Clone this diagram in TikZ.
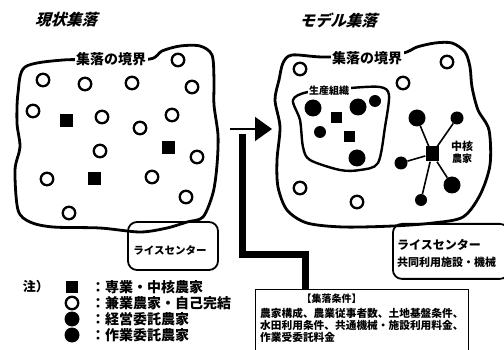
\documentclass[tikz,border=0pt]{standalone}
\usepackage{fontspec}
\newfontfamily\jp{Noto Sans CJK JP}
\newfontfamily\jpit{Noto Sans CJK JP}[FakeSlant=0.3]
\usetikzlibrary{arrows.meta}

\begin{document}
\begin{tikzpicture}[x=1pt,y=-1pt,
  every node/.style={font=\jp\bfseries},
  opencirc/.style={circle,draw,line width=2.3pt,inner sep=0pt,minimum size=12.5pt},
  bigdot/.style={circle,fill,inner sep=0pt,minimum size=17pt},
  smalldot/.style={circle,fill,inner sep=0pt,minimum size=12pt},
  farm/.style={fill,inner sep=0pt,minimum size=13pt},
  boundary/.style={line width=2.8pt,line join=round},
  tag/.style={fill=white,inner sep=1.5pt}]
\useasboundingbox (0,0) rectangle (504,350);

% titles
\node (titleL) at (66,20) {\jpit\fontsize{15.5}{16}\selectfont 現状集落};
\node (titleR) at (338,20) {\jpit\fontsize{15.5}{16}\selectfont モデル集落};

% ---- current settlement
\node (riceL) [draw,line width=1.8pt,rounded corners=9pt,minimum width=90pt,minimum height=48pt] at (173,246) {};
\node at (170,250) {\fontsize{10.5}{11}\selectfont ライスセンター};
\draw[boundary] plot[smooth cycle,tension=0.5] coordinates {(25,67) (63,60) (105,60) (150,59) (162,51) (180,46) (200,46) (212,55) (214,80) (214,105) (218,135) (217,165) (213,193) (203,217) (187,222) (167,228) (140,232) (100,228) (53,227) (30,222) (18,210) (15,170) (20,147) (17,123) (18,93)};
\node (borderL) [tag] at (111,59) {\fontsize{14}{15}\selectfont 集落の境界};

\node (o1) [opencirc] at (43,80) {};
\node (o2) [opencirc] at (85,84) {};
\node (o3) [opencirc] at (132,83) {};
\node (o4) [opencirc] at (192,87) {};
\node (o5) [opencirc] at (178,60) {};
\node (o6) [opencirc] at (33,111) {};
\node (o7) [opencirc] at (102,117) {};
\node (o8) [opencirc] at (172,115) {};
\node (o9) [opencirc] at (140,128) {};
\node (o10) [opencirc] at (100,151) {};
\node (o11) [opencirc] at (197,157) {};
\node (o12) [opencirc] at (47,179) {};
\node (o13) [opencirc] at (152,177) {};
\node (o14) [opencirc] at (186,197) {};
\node (o15) [opencirc] at (69,213) {};
\node (s1) [farm] at (66,121) {};
\node (s2) [farm] at (168,148) {};
\node (s3) [farm] at (94,179) {};

% ---- arrow and link to conditions
\coordinate (arrowtail) at (230,129);
\coordinate (arrowtip) at (272,129);
\draw[line width=1.6pt,-{Triangle[length=17pt,width=24pt]}] (arrowtail) -- (arrowtip);

\node (cond) [draw,line width=1.3pt,anchor=north west,minimum width=213pt,minimum height=70pt] at (255,289) {};
\node [anchor=west] at (298,299) {\fontsize{10}{11}\selectfont 【集落条件】};
\node [anchor=west,inner sep=0pt] at (260,313) {\fontsize{10.7}{11}\selectfont 農家構成、農業従事者数、土地基盤条件、};
\node [anchor=west,inner sep=0pt] at (260,325) {\fontsize{10.7}{11}\selectfont 水田利用条件、共通機械・施設利用料金、};
\node [anchor=west,inner sep=0pt] at (260,337) {\fontsize{10.7}{11}\selectfont 作業受委託料金};

\coordinate (linktop) at (242,134);
\coordinate (linkbend) at (305,255);
\draw[line width=7pt] (linktop) |- (linkbend) -- (linkbend |- cond.north);

% ---- model settlement
\node (riceR) [draw,line width=1.8pt,rounded corners=9pt,anchor=north west,minimum width=116pt,minimum height=55pt] at (392,223) {};
\node [anchor=west,inner sep=0pt] at (397,245) {\fontsize{12}{13}\selectfont ライスセンター};
\node [anchor=west,inner sep=0pt] at (397,262) {\fontsize{11}{12}\selectfont 共同利用施設・機械};
\draw[boundary] plot[smooth cycle,tension=0.5] coordinates {(283,63) (292,55) (322,57) (365,56) (403,53) (417,47) (435,43) (452,43) (465,52) (470,67) (472,87) (478,110) (489,130) (490,165) (480,195) (463,217) (433,223) (393,226) (343,227) (307,223) (287,210) (278,187) (277,160) (280,127) (275,100) (279,80)};
\node (borderR) [tag] at (367,58) {\fontsize{14}{15}\selectfont 集落の境界};

% production group
\draw[line width=2.4pt,line join=round] plot[smooth cycle,tension=0.5] coordinates {(293,100) (308,92) (350,88) (380,87) (389,95) (385,127) (378,163) (360,170) (340,170) (310,160) (303,147) (300,120)};
\node (group) [tag] at (329,91) {\fontsize{10}{11}\selectfont 生産組織};
\node (g1) [bigdot] at (313,108) {};
\node (g2) [bigdot] at (358,107) {};
\node (g3) [smalldot] at (375,101) {};
\node (g4) [smalldot] at (320,132) {};
\node (g5) [bigdot] at (357,158) {};
\node (gs1) [farm,minimum size=11pt] at (336,118) {};
\node (gs2) [farm,minimum size=11pt] at (349,137) {};

\node (p1) [opencirc] at (300,69) {};
\node (p2) [opencirc] at (403,83) {};
\node (p3) [opencirc] at (447,62) {};
\node (p4) [opencirc] at (300,188) {};
\node (p5) [opencirc] at (357,202) {};

% core farm
\node (core) [farm,minimum width=13pt,minimum height=15pt] at (432,154) {};
\node (c1) [bigdot] at (417,118) {};
\node (c2) [smalldot,minimum size=13pt] at (457,118) {};
\node (c3) [smalldot,minimum size=13pt] at (401,163) {};
\node (c4) [bigdot] at (452,185) {};
\node (c5) [smalldot] at (421,200) {};
\draw[line width=1.6pt] (core) -- (c1);
\draw[line width=1.6pt] (core) -- (c2);
\draw[line width=1.6pt] (core) -- (c3);
\draw[line width=1.6pt] (core) -- (c4);
\draw[line width=1.6pt] (core) -- (c5);
\node (corelbl) [align=center,inner sep=0pt] at (462,152) {\fontsize{11}{15}\selectfont 中核\\農家};

% ---- legend
\node (note) at (36,287) {\fontsize{13}{14}\selectfont 注）};
\node (k1) [farm,minimum size=12pt] at (72,287) {};
\node (k2) [opencirc] at (72,303) {};
\node (k3) [bigdot,minimum size=15pt] at (72,319) {};
\node (k4) [bigdot,minimum size=15pt] at (72,335) {};
\node [anchor=west,inner sep=0pt] at (91,287) {\fontsize{14}{15}\selectfont ：専業・中核農家};
\node [anchor=west,inner sep=0pt] at (91,303) {\fontsize{14}{15}\selectfont ：兼業農家・自己完結};
\node [anchor=west,inner sep=0pt] at (91,319) {\fontsize{14}{15}\selectfont ：経営委託農家};
\node [anchor=west,inner sep=0pt] at (91,335) {\fontsize{14}{15}\selectfont ：作業委託農家};
\end{tikzpicture}
\end{document}
